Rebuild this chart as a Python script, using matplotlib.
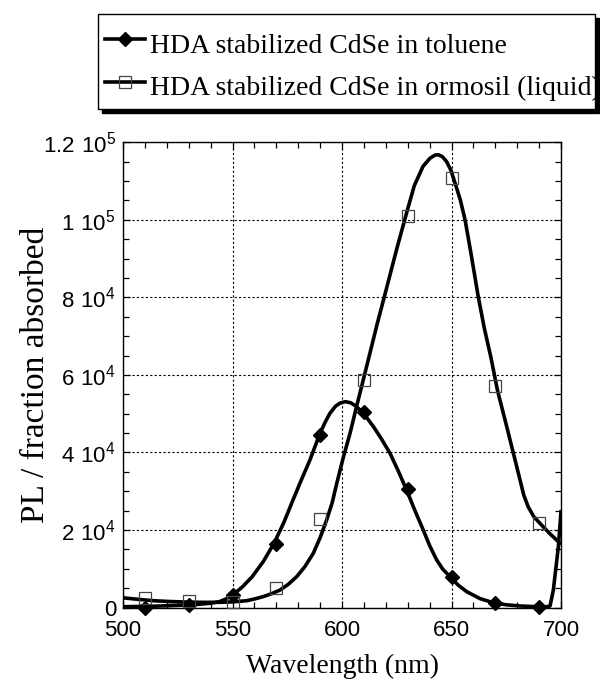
import matplotlib
matplotlib.use("Agg")
import matplotlib.pyplot as plt
from matplotlib.lines import Line2D
from matplotlib.patches import Rectangle
from matplotlib.ticker import FixedLocator, MultipleLocator

# measured points (nm, PL / fraction absorbed)
wl_points = [510, 530, 550, 570, 590, 610, 630, 650, 670, 690]
toluene_points = [0, 650, 3200, 16300, 44500, 50500, 30500, 7950, 1250, 200]
ormosil_points = [2370, 1750, 1340, 5100, 22800, 58700, 101000, 110800, 57200, 21700]

# fitted curves
toluene_fit_x = [500, 508, 515, 522, 529, 535, 540, 544, 547, 550, 554.5, 559, 564,
                 569, 573.5, 577.6, 581.5, 585.4, 588, 590, 592.3, 594.5, 597, 599,
                 601.5, 604, 606.5, 609, 611.5, 614.3, 618, 621.9, 625.7, 629.5,
                 633.3, 637.1, 640, 643.2, 646, 649.3, 653, 656.9, 663, 669, 675,
                 681.2, 687, 693.4, 695, 696.5, 698.8, 700]
toluene_fit_y = [200, 280, 350, 480, 650, 850, 1100, 1500, 2200, 3200, 5300, 7950,
                 11800, 16600, 22000, 27700, 33000, 38100, 42000, 45000, 47800,
                 50100, 51900, 52700, 53100, 52800, 51900, 50500, 48800, 46700,
                 43500, 39800, 35200, 30300, 25000, 20000, 16000, 12300, 9900, 7950,
                 5800, 4100, 2300, 1250, 700, 400, 250, 200, 400, 4500, 15700, 24700]
ormosil_fit_x = [500, 507, 514, 521, 529, 537, 544, 550, 556.5, 560, 564, 568, 571.7,
                 575.5, 579.3, 583, 586.9, 590, 593, 595.5, 597.6, 600.5, 603.7,
                 606.5, 609.7, 612, 616, 620.4, 625, 629.5, 633, 637, 640.2, 642.5,
                 644, 645.8, 647.8, 649.8, 651.6, 654, 656.2, 659, 662.2, 665, 668,
                 671, 675.2, 679.8, 683, 685, 687.5, 690.4, 695, 699.5]
ormosil_fit_y = [2500, 2100, 1750, 1550, 1400, 1330, 1340, 1450, 1750, 2200, 2800,
                 3600, 4500, 6000, 7950, 10500, 14000, 18000, 22600, 27000, 32000,
                 38500, 45000, 51500, 58700, 63900, 73000, 82500, 92500, 101800,
                 108800, 113800, 115900, 116700, 116800, 116300, 115000, 112700,
                 109500, 105200, 100000, 91000, 80200, 72000, 64500, 56000, 46700,
                 36300, 29000, 26000, 23500, 21700, 19000, 16600]

x_ticks = [500, 550, 600, 650, 700]
y_ticks = [0, 20000, 40000, 60000, 80000, 100000, 120000]
y_tick_labels = ["0", r"$\mathregular{2\ 10^{4}}$", r"$\mathregular{4\ 10^{4}}$",
                 r"$\mathregular{6\ 10^{4}}$", r"$\mathregular{8\ 10^{4}}$",
                 r"$\mathregular{1\ 10^{5}}$", r"$\mathregular{1.2\ 10^{5}}$"]
legend_labels = ["HDA stabilized CdSe in toluene",
                 "HDA stabilized CdSe in ormosil (liquid)"]

W, H = 600, 689
serif = "Liberation Serif"
sans = "Liberation Sans"

fig = plt.figure(figsize=(W / 100, H / 100), dpi=100)
ax = fig.add_axes([123 / W, 1 - 607.5 / H, 438 / W, 465.2 / H])

ax.plot(toluene_fit_x, toluene_fit_y, color="black", lw=2.6, solid_joinstyle="round",
        zorder=4)
ax.plot(ormosil_fit_x, ormosil_fit_y, color="black", lw=2.6, solid_joinstyle="round",
        zorder=4)
ax.plot(wl_points, toluene_points, linestyle="none", marker="D", ms=7.5,
        color="black", zorder=5, clip_on=False)
ax.plot(wl_points, ormosil_points, linestyle="none", marker="s", ms=8.5,
        mfc="none", mec="#444444", mew=0.9, zorder=5, clip_on=False)

ax.set_xlim(500, 700)
ax.set_ylim(0, 120000)
ax.xaxis.set_major_locator(FixedLocator(x_ticks))
ax.xaxis.set_minor_locator(MultipleLocator(10))
ax.yaxis.set_major_locator(FixedLocator(y_ticks))
ax.yaxis.set_minor_locator(MultipleLocator(5000))
ax.set_yticklabels(y_tick_labels)
ax.tick_params(which="both", direction="in", top=True, right=True, width=0.9)
ax.tick_params(which="major", length=5)
ax.tick_params(which="minor", length=4)
ax.tick_params(axis="x", pad=9, labelsize=16)
ax.tick_params(axis="y", pad=5, labelsize=16)
for lab in ax.get_xticklabels() + ax.get_yticklabels():
    lab.set_fontfamily(sans)

ax.grid(True, which="major", color="black", lw=0.8, linestyle=(0, (2, 2)))
for sp in ax.spines.values():
    sp.set_linewidth(1.0)

ax.set_xlabel("Wavelength (nm)", fontfamily=serif, fontsize=20)
ax.xaxis.set_label_coords(0.5, -0.1)
ax.set_ylabel("PL / fraction absorbed", fontfamily=serif, fontsize=24)
ax.yaxis.set_label_coords(-0.165, 0.5)

# legend box with a solid drop shadow, text running past the right edge
box_l, box_r, box_t, box_b = 98, 595, 14, 109
fig.add_artist(Rectangle((box_l / W + 4 / W, 1 - (box_b + 4) / H),
                         (box_r - box_l) / W, (box_b - box_t) / H,
                         transform=fig.transFigure, facecolor="black",
                         edgecolor="black", zorder=1))
fig.add_artist(Rectangle((box_l / W, 1 - box_b / H), (box_r - box_l) / W,
                         (box_b - box_t) / H, transform=fig.transFigure,
                         facecolor="white", edgecolor="black", lw=1.0, zorder=2))
rows = [(39, 53, dict(marker="D", ms=7.5, color="black")),
        (82, 95, dict(marker="s", ms=8.5, mfc="none", mec="#444444", mew=0.9,
                      color="black"))]
for (line_y, base_y, style), label in zip(rows, legend_labels):
    fig.add_artist(Line2D([105 / W, 145 / W], [1 - line_y / H] * 2,
                          transform=fig.transFigure, lw=2.6, color="black",
                          zorder=3))
    fig.add_artist(Line2D([125 / W], [1 - line_y / H], transform=fig.transFigure,
                          linestyle="none", zorder=4, **style))
    fig.text(150 / W, 1 - base_y / H, label, fontfamily=serif, fontsize=20,
             va="baseline", ha="left", zorder=3)

fig.savefig("out.png", dpi=100)
